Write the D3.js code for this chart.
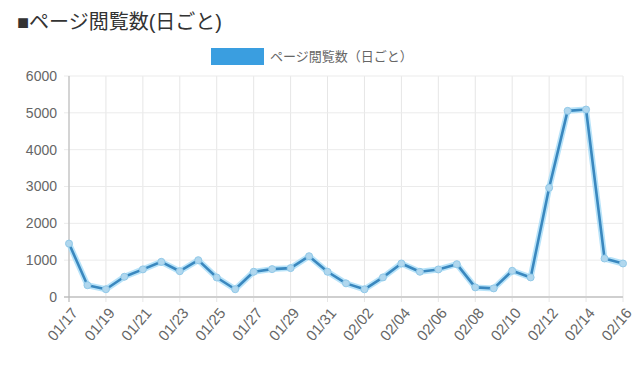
<!DOCTYPE html>
<html>
<head>
<meta charset="utf-8">
<script src="https://cdn.jsdelivr.net/npm/d3@7"></script>
<style>
  body { margin: 0; background: #fff; }
  text { font-family: Arial, "Liberation Sans", "Noto Sans CJK JP", sans-serif; }
</style>
</head>
<body>
<script>
// data
var dates = ["01/17","01/18","01/19","01/20","01/21","01/22","01/23","01/24","01/25","01/26",
             "01/27","01/28","01/29","01/30","01/31","02/01","02/02","02/03","02/04","02/05",
             "02/06","02/07","02/08","02/09","02/10","02/11","02/12","02/13","02/14","02/15","02/16"];
var views = [1450, 320, 210, 550, 750, 955, 700, 1000, 530, 210,
             685, 757, 784, 1108, 685, 370, 208, 532, 910, 685,
             748, 892, 261, 234, 712, 532, 2965, 5054, 5090, 1045, 910];
var yTicks = [0, 1000, 2000, 3000, 4000, 5000, 6000];
var titleText = "■ページ閲覧数(日ごと)";
var legendText = "ページ閲覧数（日ごと）";

var W = 640, H = 370;
var mLeft = 69, mRight = 623, mTop = 76, mBottom = 297;

var svg = d3.select("body").append("svg")
    .attr("width", W).attr("height", H);

// title
svg.append("text")
    .attr("x", 17).attr("y", 29)
    .style("font-size", "20px")
    .style("fill", "#333")
    .text(titleText);

// legend
svg.append("rect")
    .attr("x", 211).attr("y", 48).attr("width", 53).attr("height", 17)
    .style("fill", "#3a9ee0");
svg.append("text")
    .attr("x", 270).attr("y", 61)
    .style("font-size", "13px")
    .style("fill", "#666")
    .text(legendText);

var x = d3.scalePoint().domain(dates).range([mLeft, mRight]);
var y = d3.scaleLinear().domain([0, 6000]).range([mBottom, mTop]);

// grid
var labelled = dates.filter(function(d, i) { return i % 2 === 0; });
svg.append("g").selectAll("line.v")
    .data(labelled).enter().append("line")
    .attr("x1", function(d) { return x(d); })
    .attr("x2", function(d) { return x(d); })
    .attr("y1", mTop).attr("y2", mBottom + 5)
    .style("stroke", "#e6e6e6");
svg.append("g").selectAll("line.h")
    .data(yTicks).enter().append("line")
    .attr("x1", mLeft - 5).attr("x2", mRight)
    .attr("y1", function(d) { return y(d); })
    .attr("y2", function(d) { return y(d); })
    .style("stroke", function(d) { return d === 0 ? "#cfcfcf" : "#ebebeb"; })
    .style("stroke-width", function(d) { return d === 0 ? 2 : 1; });

// y axis line
svg.append("line")
    .attr("x1", mLeft).attr("x2", mLeft).attr("y1", mTop).attr("y2", mBottom + 5)
    .style("stroke", "#b5b5b5");

// y labels
svg.append("g").selectAll("text")
    .data(yTicks).enter().append("text")
    .attr("x", 57)
    .attr("y", function(d) { return y(d); })
    .attr("dy", "0.35em")
    .attr("text-anchor", "end")
    .style("font-size", "14px")
    .style("fill", "#666")
    .text(function(d) { return d; });

// x labels
svg.append("g").selectAll("text")
    .data(labelled).enter().append("text")
    .attr("transform", function(d) { return "translate(" + (x(d) + 1) + "," + (mBottom + 9) + ") rotate(-50)"; })
    .attr("text-anchor", "end")
    .attr("dy", "0.75em")
    .style("font-size", "15px")
    .style("fill", "#666")
    .text(function(d) { return d; });

// line
var line = d3.line()
    .x(function(d, i) { return x(dates[i]); })
    .y(function(d) { return y(d); });

svg.append("path")
    .datum(views)
    .attr("d", line)
    .style("fill", "none")
    .style("stroke", "#a6dcf7")
    .style("stroke-width", 6)
    .style("stroke-linejoin", "round")
    .style("opacity", 0.8);
svg.append("path")
    .datum(views)
    .attr("d", line)
    .style("fill", "none")
    .style("stroke", "#3a88bf")
    .style("stroke-width", 2.6)
    .style("stroke-linejoin", "round");

svg.append("g").selectAll("circle")
    .data(views).enter().append("circle")
    .attr("cx", function(d, i) { return x(dates[i]); })
    .attr("cy", function(d) { return y(d); })
    .attr("r", 3.5)
    .style("fill", "#b0d7ee")
    .style("stroke", "#92c9e8")
    .style("stroke-width", 1);
</script>
</body>
</html>
